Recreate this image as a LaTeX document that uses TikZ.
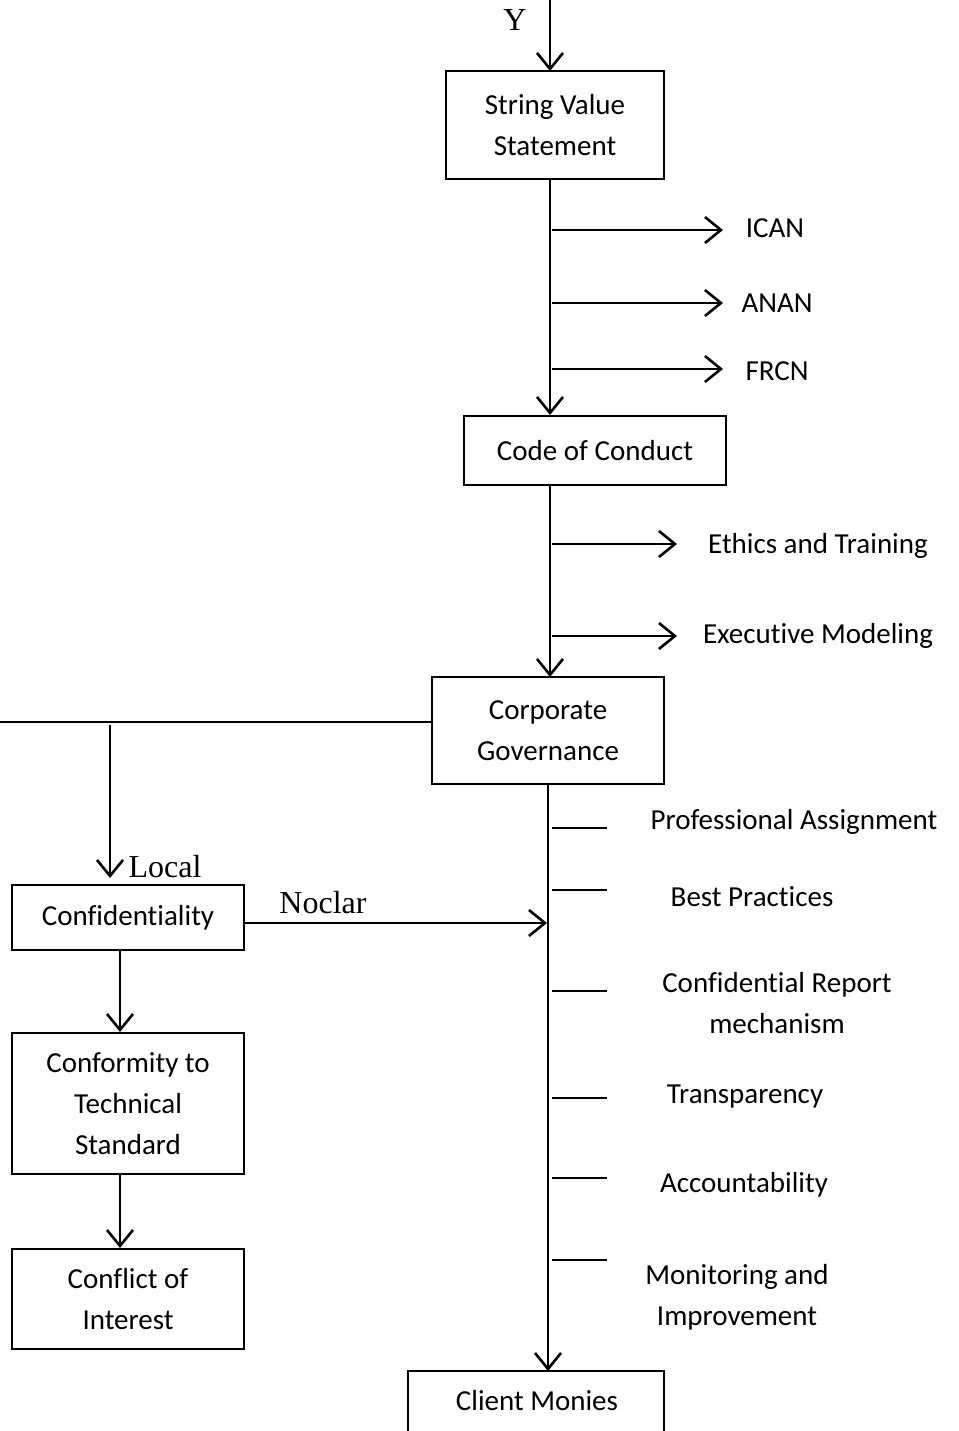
\documentclass[tikz,border=0pt]{standalone}
\usepackage{fontspec}
\setmainfont[Ligatures=NoCommon]{Carlito}
\newfontfamily\serifl{Liberation Serif}
\usetikzlibrary{arrows.meta}
\begin{document}
\begin{tikzpicture}[x=1pt,y=-1pt,
  box/.style={draw,line width=1.5pt,align=center,inner sep=0pt,
    font=\fontsize{29}{41}\selectfont},
  lbl/.style={align=center,inner sep=0pt,font=\fontsize{29}{41}\selectfont},
  slbl/.style={inner sep=0pt,font=\serifl\fontsize{32}{36}\selectfont},
  conn/.style={line width=2.8pt},
  arr/.style={conn,-{Straight Barb[length=16pt,width=26pt,line width=2.6pt]}}]
\useasboundingbox (0,0) rectangle (958,1431);
% boxes
\node[box,minimum width=218pt,minimum height=108pt] (svs) at (555,125) {String Value\\Statement};
\node[box,minimum width=262pt,minimum height=69pt] (coc) at (595,450.5) {Code of Conduct};
\node[box,minimum width=232pt,minimum height=107pt] (cg) at (548,730.5) {Corporate\\Governance};
\node[box,minimum width=232pt,minimum height=65pt] (conf) at (128,917.5) {Confidentiality};
\node[box,minimum width=232pt,minimum height=141pt] (conform) at (128,1103.5) {Conformity to\\Technical\\Standard};
\node[box,minimum width=232pt,minimum height=100pt] (coi) at (128,1299) {Conflict of\\Interest};
\node[lbl] (cm) at (537,1401) {Client Monies};
\draw[line width=1.5pt] (408,1440) -- (408,1371) coordinate (cmtl) -- (664,1371) -- (664,1440);
\coordinate (cmtop) at (548,1371);
% labels
\node[slbl] (y) at (515,20) {Y};
\node[slbl] (local) at (165,867) {Local};
\node[slbl] (noclar) at (323,903) {Noclar};
\node[lbl] (ican) at (775,228) {ICAN};
\node[lbl] (anan) at (777,303) {ANAN};
\node[lbl] (frcn) at (777,371) {FRCN};
\node[lbl] (eth) at (818,546) {Ethics and Training};
\node[lbl] (exe) at (818,636) {Executive Modeling};
\node[lbl] (pa) at (794,822) {Professional Assignment};
\node[lbl] (bp) at (752,897) {Best Practices};
\node[lbl] (crm) at (777,1003) {Confidential Report\\mechanism};
\node[lbl] (tr) at (745,1097) {Transparency};
\node[lbl] (acc) at (744,1185) {Accountability};
\node[lbl] (mi) at (737,1297) {Monitoring and\\Improvement};
% coordinates
\coordinate (top) at (550,0);
\coordinate (ytop) at (550,71);
\coordinate (a1) at (550,179);
\coordinate (a2) at (550,415);
\coordinate (b1) at (550,485);
\coordinate (b2) at (550,677);
\coordinate (c1) at (548,784);
\coordinate (left) at (0,722);
\coordinate (l1) at (110,725);
\coordinate (l2) at (110,878);
% trunk
\draw[arr] (top) -- (ytop);
\draw[arr] (a1) -- (a2);
\draw[arr] (b1) -- (b2);
\draw[arr] (c1) -- (cmtop);
% upper branches
\foreach \yy/\xe in {230/723,303/723,369/723,544/677,636/677}
  \draw[arr] (552,\yy) -- (\xe,\yy);
% ticks
\foreach \yy in {828,890,991,1098,1178,1260}
  \draw[line width=1.6pt] (552,\yy) -- (607,\yy);
% left side
\draw[conn] (left) -- (cg.west |- left);
\draw[arr] (l1) -- (l2);
\draw[arr] (conf.east |- 0,923) -- (547,923);
\draw[arr] (120,950) -- (120,1032);
\draw[arr] (120,1174) -- (120,1248);
\end{tikzpicture}
\end{document}
